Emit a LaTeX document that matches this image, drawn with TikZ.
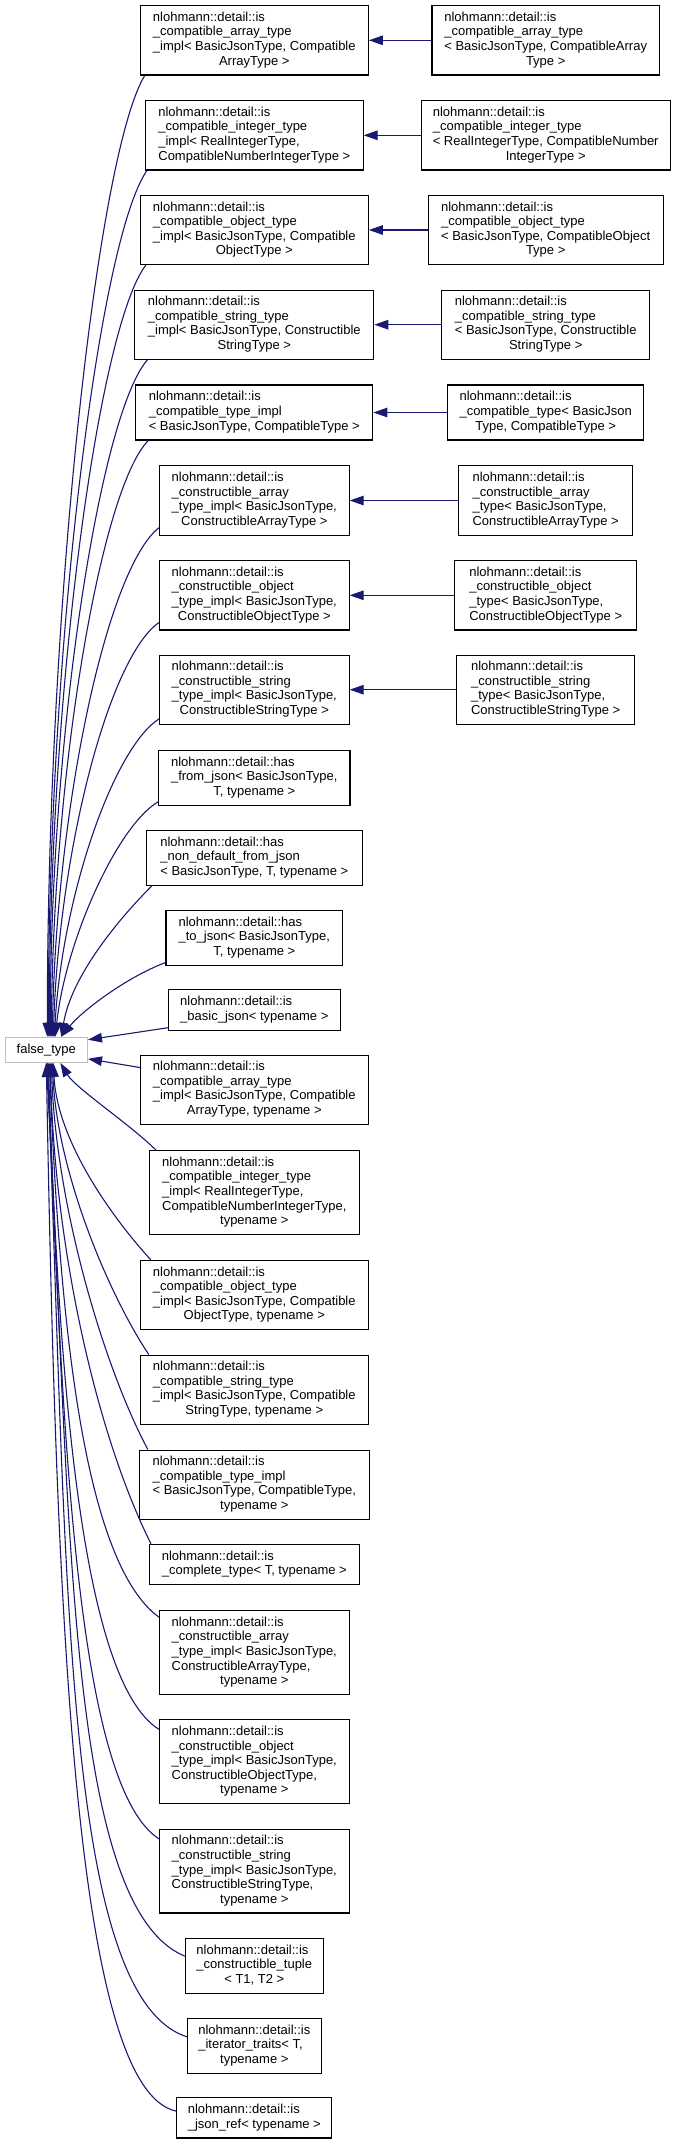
\documentclass[tikz,border=0pt]{standalone}
\usepackage{fontspec}
\setmainfont{Liberation Sans}
\usetikzlibrary{arrows.meta}
\definecolor{midblue}{HTML}{191970}
\definecolor{ftgray}{HTML}{BFBFBF}
\newcommand{\lbl}[2]{\begin{tabular}{@{}l@{}}#1\\\multicolumn{1}{@{}c@{}}{#2}\end{tabular}}
\begin{document}
\begin{tikzpicture}[x=1pt,y=-1pt,
  box/.style={draw=black, line width=1.1pt, fill=white, inner sep=0pt, font=\fontsize{13}{14.6}\selectfont},
  gbox/.style={box, draw=ftgray},
  link/.style={draw=midblue, line width=1.1pt, arrows={Triangle[length=14pt,width=9.5pt]-}}]
\useasboundingbox (0,0) rectangle (680,2144);
% right column
\node[box, minimum width=227.5pt, minimum height=69.3pt] (r1) at (545.7,40.3) {\lbl{nlohmann::detail::is\\\_compatible\_array\_type\\< BasicJsonType, CompatibleArray}{Type >}};
\node[box, minimum width=249pt, minimum height=69.3pt] (r2) at (545.7,135.3) {\lbl{nlohmann::detail::is\\\_compatible\_integer\_type\\< RealIntegerType, CompatibleNumber}{IntegerType >}};
\node[box, minimum width=235pt, minimum height=69.3pt] (r3) at (545.7,230) {\lbl{nlohmann::detail::is\\\_compatible\_object\_type\\< BasicJsonType, CompatibleObject}{Type >}};
\node[box, minimum width=207.7pt, minimum height=69.3pt] (r4) at (545.7,324.7) {\lbl{nlohmann::detail::is\\\_compatible\_string\_type\\< BasicJsonType, Constructible}{StringType >}};
\node[box, minimum width=196pt, minimum height=55pt] (r5) at (545.7,412.5) {\lbl{nlohmann::detail::is\\\_compatible\_type< BasicJson}{Type, CompatibleType >}};
\node[box, minimum width=173.7pt, minimum height=69.3pt] (r6) at (545.7,500.5) {\lbl{nlohmann::detail::is\\\_constructible\_array\\\_type< BasicJsonType,}{ConstructibleArrayType >}};
\node[box, minimum width=182pt, minimum height=69.3pt] (r7) at (545.7,595.3) {\lbl{nlohmann::detail::is\\\_constructible\_object\\\_type< BasicJsonType,}{ConstructibleObjectType >}};
\node[box, minimum width=178pt, minimum height=69.3pt] (r8) at (545.7,689.7) {\lbl{nlohmann::detail::is\\\_constructible\_string\\\_type< BasicJsonType,}{ConstructibleStringType >}};
% left column
\node[box, minimum width=228pt, minimum height=69.3pt] (l1) at (254.3,40.3) {\lbl{nlohmann::detail::is\\\_compatible\_array\_type\\\_impl< BasicJsonType, Compatible}{ArrayType >}};
\node[box, minimum width=217.6pt, minimum height=69.3pt] (l2) at (254.3,135.3) {\lbl{nlohmann::detail::is\\\_compatible\_integer\_type\\\_impl< RealIntegerType,}{CompatibleNumberIntegerType >}};
\node[box, minimum width=228pt, minimum height=69.3pt] (l3) at (254.3,230) {\lbl{nlohmann::detail::is\\\_compatible\_object\_type\\\_impl< BasicJsonType, Compatible}{ObjectType >}};
\node[box, minimum width=238.8pt, minimum height=69.3pt] (l4) at (254.3,324.7) {\lbl{nlohmann::detail::is\\\_compatible\_string\_type\\\_impl< BasicJsonType, Constructible}{StringType >}};
\node[box, minimum width=237pt, minimum height=55pt] (l5) at (254.3,412.5) {\lbl{nlohmann::detail::is\\\_compatible\_type\_impl}{< BasicJsonType, CompatibleType >}};
\node[box, minimum width=189.6pt, minimum height=69.3pt] (l6) at (254.3,500.5) {\lbl{nlohmann::detail::is\\\_constructible\_array\\\_type\_impl< BasicJsonType,}{ConstructibleArrayType >}};
\node[box, minimum width=189.6pt, minimum height=69.3pt] (l7) at (254.3,595.3) {\lbl{nlohmann::detail::is\\\_constructible\_object\\\_type\_impl< BasicJsonType,}{ConstructibleObjectType >}};
\node[box, minimum width=189.6pt, minimum height=69.3pt] (l8) at (254.3,689.7) {\lbl{nlohmann::detail::is\\\_constructible\_string\\\_type\_impl< BasicJsonType,}{ConstructibleStringType >}};
\node[box, minimum width=191.4pt, minimum height=54.7pt] (l9) at (254.3,778) {\lbl{nlohmann::detail::has\\\_from\_json< BasicJsonType,}{T, typename >}};
\node[box, minimum width=215.5pt, minimum height=54.7pt] (l10) at (254.3,857.8) {\lbl{nlohmann::detail::has\\\_non\_default\_from\_json}{< BasicJsonType, T, typename >}};
\node[box, minimum width=176.7pt, minimum height=54.7pt] (l11) at (254.3,937.7) {\lbl{nlohmann::detail::has\\\_to\_json< BasicJsonType,}{T, typename >}};
\node[box, minimum width=171.5pt, minimum height=40.3pt] (l12) at (254.3,1010) {\lbl{nlohmann::detail::is}{\_basic\_json< typename >}};
\node[gbox, minimum width=82.3pt, minimum height=25pt] (ft) at (46.3,1049.8) {false\_type};
\node[box, minimum width=228pt, minimum height=69.3pt] (l13) at (254.3,1089.7) {\lbl{nlohmann::detail::is\\\_compatible\_array\_type\\\_impl< BasicJsonType, Compatible}{ArrayType, typename >}};
\node[box, minimum width=209.5pt, minimum height=83.6pt] (l14) at (254.3,1192.5) {\lbl{nlohmann::detail::is\\\_compatible\_integer\_type\\\_impl< RealIntegerType,\\CompatibleNumberIntegerType,}{typename >}};
\node[box, minimum width=228pt, minimum height=69.3pt] (l15) at (254.3,1295) {\lbl{nlohmann::detail::is\\\_compatible\_object\_type\\\_impl< BasicJsonType, Compatible}{ObjectType, typename >}};
\node[box, minimum width=228pt, minimum height=69.3pt] (l16) at (254.3,1389.7) {\lbl{nlohmann::detail::is\\\_compatible\_string\_type\\\_impl< BasicJsonType, Compatible}{StringType, typename >}};
\node[box, minimum width=229.7pt, minimum height=69.3pt] (l17) at (254.3,1484.7) {\lbl{nlohmann::detail::is\\\_compatible\_type\_impl\\< BasicJsonType, CompatibleType,}{typename >}};
\node[box, minimum width=209.5pt, minimum height=40.3pt] (l18) at (254.3,1564.5) {\lbl{nlohmann::detail::is}{\_complete\_type< T, typename >}};
\node[box, minimum width=189.6pt, minimum height=83.6pt] (l19) at (254.3,1652.5) {\lbl{nlohmann::detail::is\\\_constructible\_array\\\_type\_impl< BasicJsonType,\\ConstructibleArrayType,}{typename >}};
\node[box, minimum width=189.6pt, minimum height=83.6pt] (l20) at (254.3,1761.7) {\lbl{nlohmann::detail::is\\\_constructible\_object\\\_type\_impl< BasicJsonType,\\ConstructibleObjectType,}{typename >}};
\node[box, minimum width=189.6pt, minimum height=83.6pt] (l21) at (254.3,1871.2) {\lbl{nlohmann::detail::is\\\_constructible\_string\\\_type\_impl< BasicJsonType,\\ConstructibleStringType,}{typename >}};
\node[box, minimum width=138pt, minimum height=54.7pt] (l22) at (254.3,1966) {\lbl{nlohmann::detail::is\\\_constructible\_tuple}{< T1, T2 >}};
\node[box, minimum width=133.6pt, minimum height=54.7pt] (l23) at (254.3,2045.7) {\lbl{nlohmann::detail::is\\\_iterator\_traits< T,}{typename >}};
\node[box, minimum width=155.2pt, minimum height=40.3pt] (l24) at (254.3,2117.8) {\lbl{nlohmann::detail::is}{\_json\_ref< typename >}};
% horizontal links
\foreach \i in {1,...,8} \draw[link] (l\i.east) -- (r\i.west);
% links into false_type, from above
\draw[link] ([xshift=1pt]ft.north) .. controls +(0,-433) and +(-47,77) .. ([xshift=5pt]l1.south west);
\draw[link] ([xshift=2pt]ft.north) .. controls +(0,-390) and +(-48,69) .. ([xshift=2pt]l2.south west);
\draw[link] ([xshift=3pt]ft.north) .. controls +(0,-348) and +(-47,62) .. ([xshift=6pt]l3.south west);
\draw[link] ([xshift=4pt]ft.north) .. controls +(0,-305) and +(-47,54) .. ([xshift=13pt]l4.south west);
\draw[link] ([xshift=5pt]ft.north) .. controls +(2,-269) and +(-47,48) .. ([xshift=13pt]l5.south west);
\draw[link] ([xshift=6pt]ft.north) .. controls +(4,-230) and +(-52,41) .. ([yshift=8pt]l6.south west);
\draw[link] ([xshift=7pt]ft.north) .. controls +(6,-187) and +(-50,35) .. ([yshift=8pt]l7.south west);
\draw[link] ([xshift=8pt]ft.north) .. controls +(8,-140) and +(-46,30) .. ([yshift=6pt]l8.south west);
\draw[link] ([xshift=9pt]ft.north) .. controls +(10,-95) and +(-41,24) .. ([yshift=4pt]l9.south west);
\draw[link] ([xshift=15pt]ft.north) .. controls +(10,-60) and +(-35,35) .. ([xshift=6pt]l10.south west);
\draw[link] ([xshift=15pt]ft.north) .. controls +(20,-25) and +(-40,15) .. ([yshift=3pt]l11.south west);
\draw[link] ([yshift=-3pt]ft.north east) -- ([yshift=3pt]l12.south west);
% links into false_type, from below
\draw[link] ([yshift=4pt]ft.south east) -- ([yshift=-13pt]l13.north west);
\draw[link] ([xshift=14pt]ft.south) .. controls +(15,25) and +(-25,-25) .. ([xshift=7pt]l14.north west);
\draw[link] ([xshift=7pt]ft.south) .. controls +(4,77) and +(-41,-45) .. ([xshift=11pt]l15.north west);
\draw[link] ([xshift=6pt]ft.south) .. controls +(5,110) and +(-40,-60) .. ([xshift=9pt]l16.north west);
\draw[link] ([xshift=5pt]ft.south) .. controls +(5,147) and +(-42,-78) .. ([xshift=9pt]l17.north west);
\draw[link] ([xshift=4pt]ft.south) .. controls +(4,183) and +(-55,-110) .. ([xshift=2pt]l18.north west);
\draw[link] ([xshift=3pt]ft.south) .. controls +(10,250) and +(-77,-56) .. ([yshift=-7pt]l19.north west);
\draw[link] ([xshift=2pt]ft.south) .. controls +(10,300) and +(-80,-50) .. ([yshift=-10pt]l20.north west);
\draw[link] ([xshift=1pt]ft.south) .. controls +(15,350) and +(-85,-55) .. ([yshift=-10pt]l21.north west);
\draw[link] ([xshift=0pt]ft.south) .. controls +(25,447) and +(-120,-50) .. ([yshift=-18pt]l22.north west);
\draw[link] ([xshift=1pt]ft.south) .. controls +(20,500) and +(-125,-40) .. ([yshift=-19pt]l23.north west);
\draw[link] ([xshift=0pt]ft.south) .. controls +(10,550) and +(-102,-22) .. ([yshift=-14pt]l24.north west);
\end{tikzpicture}
\end{document}
